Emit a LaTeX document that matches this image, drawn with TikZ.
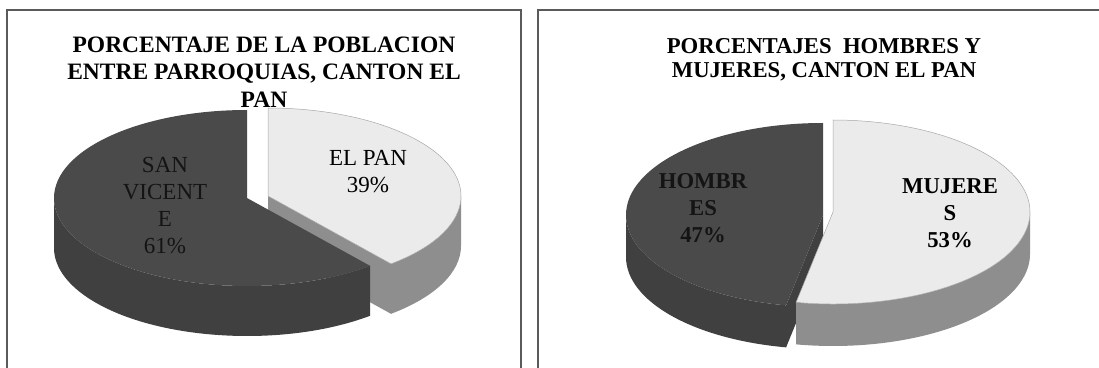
\documentclass[tikz,border=0pt]{standalone}
\usepackage{fontspec}
\setmainfont{Liberation Serif}
\usetikzlibrary{calc}
\definecolor{darkslice}{HTML}{4A4A4A}
\definecolor{darkside}{HTML}{404040}
\definecolor{lightslice}{HTML}{EBEBEB}
\definecolor{lightside}{HTML}{8E8E8E}
\definecolor{lightedge}{HTML}{A8A8A8}
\definecolor{framecol}{HTML}{5A5A5A}
\definecolor{darklabel}{HTML}{141414}
\begin{document}
\begin{tikzpicture}[x=1pt,y=1pt,
  frame/.style={draw=framecol,line width=1.1pt},
  darktop/.style={fill=darkslice},
  darkwall/.style={fill=darkside},
  lighttop/.style={fill=lightslice,draw=lightedge,line width=0.5pt},
  lightwall/.style={fill=lightside},
  titleL/.style={font=\bfseries\fontsize{23.5}{27.5}\selectfont,align=center,inner sep=0pt,anchor=north},
  titleR/.style={font=\bfseries\fontsize{22.7}{24}\selectfont,align=center,inner sep=0pt,anchor=north},
  lab/.style={font=\fontsize{23}{27}\selectfont,align=center,inner sep=0pt,anchor=north},
  labb/.style={font=\bfseries\fontsize{22.7}{27}\selectfont,align=center,inner sep=0pt,anchor=north}
]
\useasboundingbox (0,0) rectangle (1099,367);
\fill[white] (0,0) rectangle (1099,367);

% frames
\draw[frame] (7,-5) -- (7,357) -- (521,357) -- (521,-5);
\draw[frame] (538,-5) -- (538,357) -- (1105,357);

% ---------------- left chart ----------------
\coordinate (D) at (247,169);
\coordinate (L) at (268,171);
\coordinate (Lb) at ($(L)+(0,-50)$);
% light slice radial face
\fill[lightwall] (L) -- ++(-50.4:193pt and 88pt) -- ++(0,-50) -- (Lb) -- cycle;
% light slice curved side
\fill[lightwall] (L) ++(-50.4:193pt and 88pt)
  arc[start angle=-50.4,end angle=0,x radius=193pt,y radius=88pt]
  -- ++(0,-50)
  arc[start angle=0,end angle=-50.4,x radius=193pt,y radius=88pt] -- cycle;
% light slice top
\filldraw[lighttop] (L) -- ++(-50.4:193pt and 88pt)
  arc[start angle=-50.4,end angle=90,x radius=193pt,y radius=88pt] -- cycle;
% dark slice curved side
\fill[darkwall] (D) ++(180:193pt and 88pt)
  arc[start angle=180,end angle=309.6,x radius=193pt,y radius=88pt]
  -- ++(0,-50)
  arc[start angle=309.6,end angle=180,x radius=193pt,y radius=88pt] -- cycle;
% dark slice top
\fill[darktop] (D) -- ++(90:193pt and 88pt)
  arc[start angle=90,end angle=309.6,x radius=193pt,y radius=88pt] -- cycle;

\node[titleL] (t1) at (264,330.6) {PORCENTAJE DE LA POBLACION\\ENTRE PARROQUIAS, CANTON EL\\PAN};
\node[lab] (elpan) at (368,217.2) {EL PAN\\39\%};
\node[lab,text=darklabel] (sanv) at (165,210) {\color{darklabel}SAN\\\color{darklabel}VICENT\\\color{darklabel}E\\\color{darklabel}61\%};

% ---------------- right chart ----------------
\coordinate (D2) at (823,152);
\coordinate (L2) at (833,155);
\coordinate (D2b) at ($(D2)+(0,-42)$);
% dark slice curved side
\fill[darkwall] (D2) ++(180:197pt and 92pt)
  arc[start angle=180,end angle=259.2,x radius=197pt,y radius=92pt]
  -- ++(0,-42)
  arc[start angle=259.2,end angle=180,x radius=197pt,y radius=92pt] -- cycle;
% dark slice radial face
\fill[darkwall] (D2) -- ++(259.2:197pt and 92pt) -- ++(0,-42) -- (D2b) -- cycle;
% dark slice top
\fill[darktop] (D2) -- ++(90:197pt and 92pt)
  arc[start angle=90,end angle=259.2,x radius=197pt,y radius=92pt] -- cycle;
% light slice curved side
\fill[lightwall] (L2) ++(-100.8:197pt and 92pt)
  arc[start angle=-100.8,end angle=0,x radius=197pt,y radius=92pt]
  -- ++(0,-42)
  arc[start angle=0,end angle=-100.8,x radius=197pt,y radius=92pt] -- cycle;
% light slice top
\filldraw[lighttop] (L2) -- ++(-100.8:197pt and 92pt)
  arc[start angle=-100.8,end angle=90,x radius=197pt,y radius=92pt] -- cycle;

\node[titleR] (t2) at (824,329) {PORCENTAJES\ \ HOMBRES Y\\MUJERES, CANTON EL PAN};
\node[labb] (muj) at (950,189) {MUJERE\\S\\53\%};
\node[labb,text=darklabel] (hom) at (703,194) {\color{darklabel}HOMBR\\\color{darklabel}ES\\\color{darklabel}47\%};
\end{tikzpicture}
\end{document}
